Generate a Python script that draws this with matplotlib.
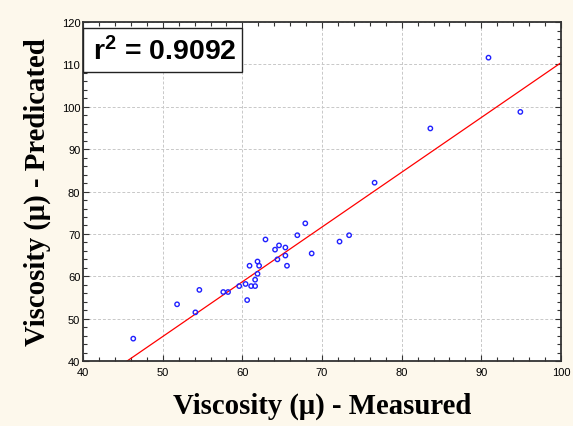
import numpy as np
import matplotlib
matplotlib.use("Agg")
from matplotlib import pyplot as plt
from matplotlib.patches import Rectangle
from matplotlib.ticker import MultipleLocator

# -----------------------------
# Data
# -----------------------------
measured = [46.3, 51.8, 54.6, 54.1, 57.6, 58.2, 59.6, 60.4, 60.6, 60.9,
            61.1, 61.6, 61.6, 61.9, 61.9, 62.1, 62.9, 64.1, 64.4, 64.6,
            65.4, 65.4, 65.6, 66.9, 67.9, 68.7, 72.2, 73.4, 76.6, 83.6,
            90.9, 94.9]
predicted = [45.3, 53.4, 56.8, 51.5, 56.3, 56.3, 57.7, 58.2, 54.4, 62.5,
             57.7, 57.7, 59.2, 60.6, 63.5, 62.5, 68.7, 66.3, 64.0, 67.3,
             66.8, 64.9, 62.5, 69.7, 72.5, 65.4, 68.2, 69.7, 82.1, 94.9,
             111.6, 98.8]
fit_slope = 1.292
fit_intercept = -18.8
r2_text = "0.9092"

BG = "#fdf8ec"

# bold sans for the r^2 box (mathtext superscript too)
plt.rcParams["mathtext.fontset"] = "custom"
plt.rcParams["mathtext.rm"] = "Liberation Sans:bold"
plt.rcParams["mathtext.bf"] = "Liberation Sans:bold"
plt.rcParams["mathtext.it"] = "Liberation Sans:bold"
plt.rcParams["mathtext.default"] = "rm"

fig = plt.figure(figsize=(5.73, 4.27), dpi=100, facecolor=BG)
ax = fig.add_axes([0.145, 0.152, 0.834, 0.794])
ax.set_facecolor("white")

# fit line across the x range
xl = np.array([40, 100])
ax.plot(xl, fit_intercept + fit_slope * xl, color="#ff0000", lw=0.9, zorder=2)

ax.scatter(measured, predicted, s=10, facecolors="none", edgecolors="#2020ff",
           linewidths=1.0, zorder=3)

ax.set_xlim(40, 100)
ax.set_ylim(40, 120)
ax.xaxis.set_major_locator(MultipleLocator(10))
ax.xaxis.set_minor_locator(MultipleLocator(2))
ax.yaxis.set_major_locator(MultipleLocator(10))
ax.yaxis.set_minor_locator(MultipleLocator(2))
ax.tick_params(which="both", direction="in", top=True, right=True,
               color="#333333", labelsize=8)
ax.tick_params(which="major", length=4, width=0.8)
ax.tick_params(which="minor", length=3, width=0.8)
ax.tick_params(axis="x", pad=4)
ax.tick_params(axis="y", pad=2)
for lab in ax.get_xticklabels() + ax.get_yticklabels():
    lab.set_family("Liberation Sans")

ax.grid(True, which="major", color="#c8c8c8", ls=(0, (3, 2)), lw=0.7)
ax.set_axisbelow(True)
for s in ax.spines.values():
    s.set_color("#333333")
    s.set_linewidth(1.3)

ax.set_xlabel("Viscosity (\u03bc) - Measured", family="Liberation Serif",
              fontweight="bold", fontsize=20.7, labelpad=11)
ax.set_ylabel("Viscosity (\u03bc) - Predicated", family="Liberation Serif",
              fontweight="bold", fontsize=20.7, labelpad=8)

# r^2 box in the top-left corner
ax.add_patch(Rectangle((0.0, 0.854), 0.333, 0.128, transform=ax.transAxes,
                       fc="white", ec="#222222", lw=1.0, zorder=5))
ax.text(0.171, 0.915, "r$^{2}$ = " + r2_text, transform=ax.transAxes,
        family="Liberation Sans", fontweight="bold", fontsize=20.5,
        va="center", ha="center", zorder=6)

fig.savefig("out.png", dpi=100, facecolor=BG)
